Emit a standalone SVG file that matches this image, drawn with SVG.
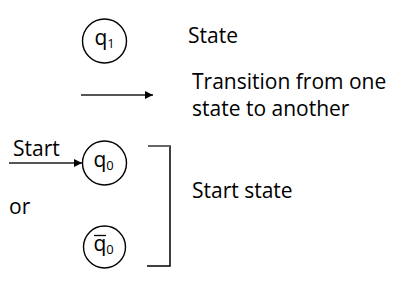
<svg xmlns="http://www.w3.org/2000/svg" width="405" height="282" viewBox="0 0 405 282">
<style>
text{font-family:"Open Sans","Noto Sans","Liberation Sans",sans-serif;fill:#000}
.lbl{font-size:21px}
.q{font-size:21px}
.sub{font-size:13px}
.st{fill:#fff;stroke:#000;stroke-width:1.4}
.ln{stroke:#555;stroke-width:2;fill:none}
.br{stroke:#000;stroke-width:1.5;fill:none}
</style>
<defs>
<marker id="ah" viewBox="0 0 10 10" refX="10" refY="5" markerWidth="4" markerHeight="4.5" orient="auto" markerUnits="strokeWidth">
<path d="M0,0 L10,5 L0,10 z" fill="#000"/>
</marker>
</defs>
<rect width="405" height="282" fill="#fff"/>
<g id="connectors">
<line class="ln" x1="81" y1="95" x2="153" y2="95" marker-end="url(#ah)"/>
<line id="start-arrow" class="ln" x1="9" y1="163" x2="82" y2="163" marker-end="url(#ah)"/>
<path class="br" d="M148,146 H170 V266 H147"/>
<line x1="148" y1="146" x2="170" y2="146" stroke="#666" stroke-width="2"/>
</g>
<g id="q1">
<circle class="st" cx="104.5" cy="41" r="22"/>
<text class="q" x="94.5" y="45">q<tspan class="sub" dy="3">1</tspan></text>
</g>
<g id="q0">
<circle class="st" cx="104.5" cy="163" r="22"/>
<text class="q" x="93.5" y="167">q<tspan class="sub" dy="3">0</tspan></text>
</g>
<g id="q0bar">
<circle class="st" cx="104.5" cy="247" r="21"/>
<text class="q" x="93.5" y="251">q<tspan class="sub" dy="3">0</tspan></text>
<line x1="94" y1="235.5" x2="106" y2="235.5" stroke="#000" stroke-width="1.3"/>
</g>
<g id="labels">
<text class="lbl" x="188" y="43">State</text>
<text class="lbl" x="192" y="89">Transition from one</text>
<text class="lbl" x="192" y="116">state to another</text>
<text class="lbl" x="13" y="156">Start</text>
<text class="lbl" x="9" y="214">or</text>
<text class="lbl" x="192" y="198">Start state</text>
</g>
</svg>
